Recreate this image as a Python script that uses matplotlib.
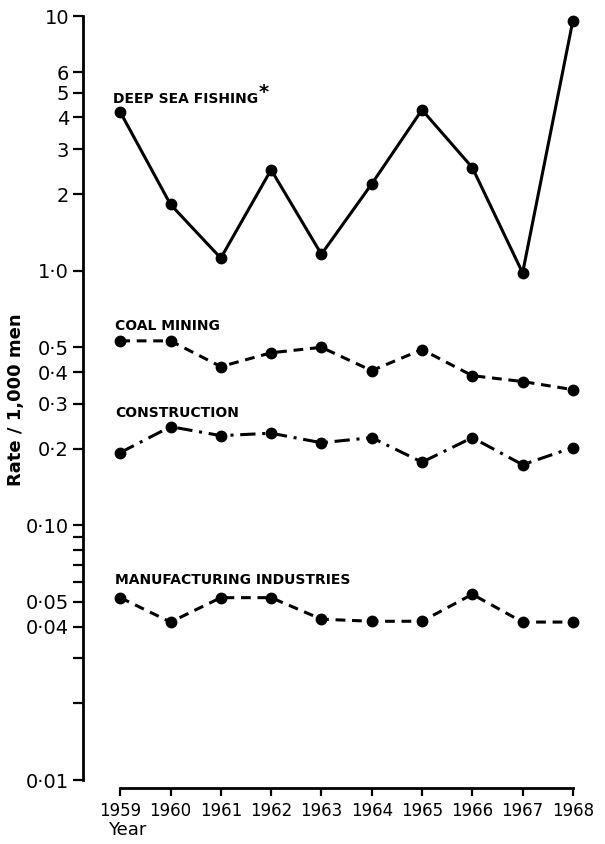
import matplotlib
matplotlib.use("Agg")
import matplotlib.pyplot as plt
from matplotlib.ticker import FixedLocator, FixedFormatter, NullLocator

years = [1959, 1960, 1961, 1962, 1963, 1964, 1965, 1966, 1967, 1968]
deep_sea_fishing = [4.2, 1.82, 1.12, 2.49, 1.16, 2.19, 4.28, 2.54, 0.98, 9.6]
coal_mining = [0.53, 0.53, 0.42, 0.476, 0.50, 0.405, 0.49, 0.387, 0.367, 0.341]
construction = [0.193, 0.244, 0.225, 0.23, 0.211, 0.221, 0.177, 0.221, 0.173, 0.202]
manufacturing = [0.052, 0.0417, 0.052, 0.052, 0.0428, 0.042, 0.042, 0.0536, 0.0417, 0.0417]

ytick_vals = [10, 6, 5, 4, 3, 2, 1.0, 0.5, 0.4, 0.3, 0.2, 0.10, 0.05, 0.04, 0.01]
ytick_labels = ["10", "6", "5", "4", "3", "2", "1·0", "0·5", "0·4", "0·3", "0·2",
                "0·10", "0·05", "0·04", "0·01"]
yminor_vals = [0.09, 0.08, 0.07, 0.06, 0.03, 0.02]
xtick_labels = [str(y) for y in years]

W, H = 605, 844
fig = plt.figure(figsize=(W / 100, H / 100), dpi=100)
left, right, top, bottom = 83, 590, 16, 780
ax = fig.add_axes([left / W, 1 - bottom / H, (right - left) / W, (bottom - top) / H])

ax.set_yscale("log")
ax.set_ylim(0.01, 10)
ax.set_xlim(1958.26, 1968.34)

lw = 2.2
ms = 7.5
ax.plot(years, deep_sea_fishing, color="black", lw=lw, ls="-", marker="o", ms=ms, clip_on=False)
ax.plot(years, coal_mining, color="black", lw=lw, ls=(0, (3.2, 2.2)), marker="o", ms=ms, clip_on=False)
ax.plot(years, construction, color="black", lw=lw, ls=(0, (5, 2.2, 1, 2.2)), marker="o", ms=ms, clip_on=False)
ax.plot(years, manufacturing, color="black", lw=lw, ls=(0, (3.2, 2.2)), marker="o", ms=ms, clip_on=False)

lab_kw = dict(fontsize=10, fontweight="bold", ha="left", va="baseline", color="black")
ax.text(1958.86, 4.56, "DEEP SEA FISHING", **lab_kw)
ax.text(1961.76, 4.75, "*", fontsize=14, fontweight="bold", ha="left", va="baseline", color="black")
ax.text(1958.9, 0.587, "COAL MINING", **lab_kw)
ax.text(1958.9, 0.267, "CONSTRUCTION", **lab_kw)
ax.text(1958.9, 0.0588, "MANUFACTURING INDUSTRIES", **lab_kw)

ax.yaxis.set_major_locator(FixedLocator(ytick_vals))
ax.yaxis.set_major_formatter(FixedFormatter(ytick_labels))
ax.yaxis.set_minor_locator(FixedLocator(yminor_vals))
ax.xaxis.set_major_locator(FixedLocator(years))
ax.xaxis.set_major_formatter(FixedFormatter(xtick_labels))
ax.xaxis.set_minor_locator(NullLocator())

ax.tick_params(axis="y", which="both", direction="out", length=7, width=1.6, labelsize=14, pad=3)
ax.tick_params(axis="x", which="both", direction="out", length=6, width=1.6, labelsize=12, pad=4)

for s in ["top", "right"]:
    ax.spines[s].set_visible(False)
ax.spines["left"].set_linewidth(2)
ax.spines["bottom"].set_linewidth(2)
ax.spines["left"].set_bounds(0.01, 10)
ax.spines["bottom"].set_bounds(1959, 1968)
ax.spines["bottom"].set_position(("outward", 6))

fig.text(16 / W, 1 - 400 / H, "Rate / 1,000 men", rotation=90, ha="center", va="center",
         fontsize=13, fontweight="bold")
fig.text(108 / W, 1 - 830 / H, "Year", ha="left", va="center", fontsize=13)

fig.savefig("out.png", dpi=100)
